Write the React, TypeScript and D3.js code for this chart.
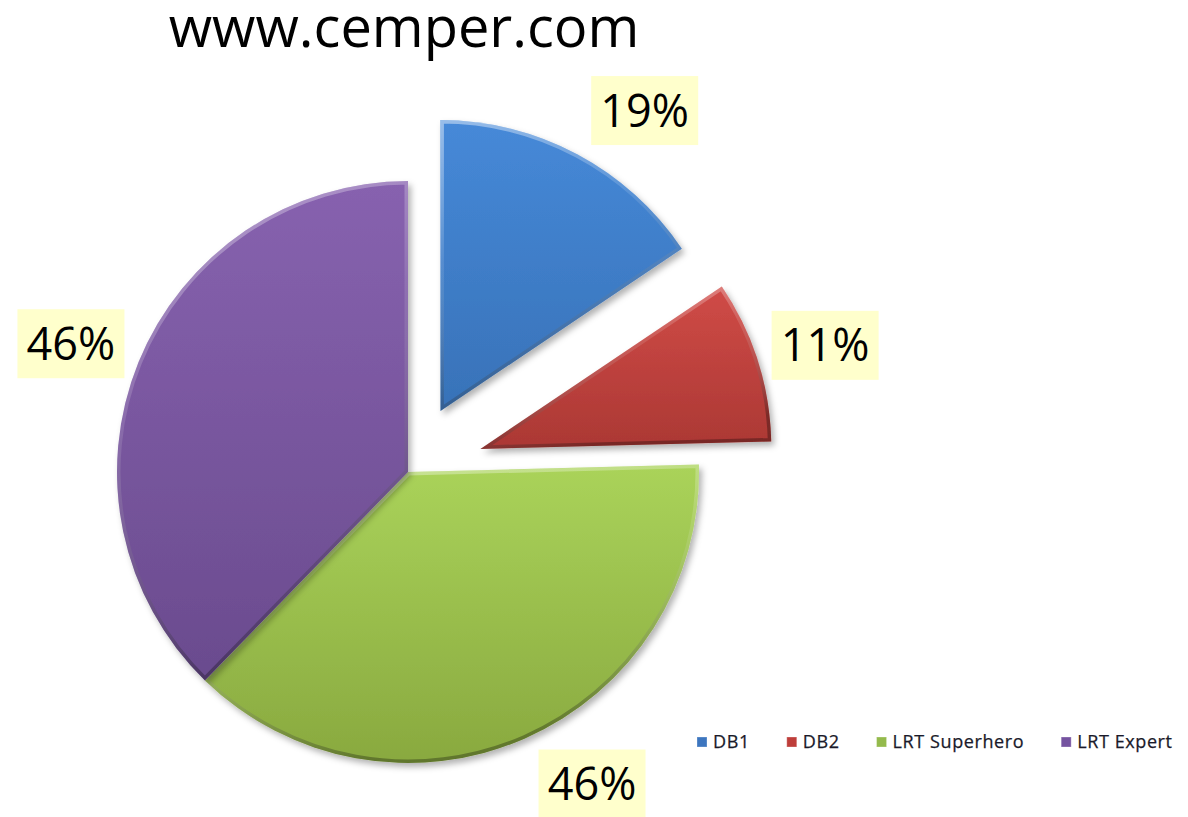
import React from "react";
import * as d3 from "d3";

const categories = ["DB1", "DB2", "LRT Superhero", "LRT Expert"];
const values = [19, 11, 46, 46];
const valueLabels = ["19%", "11%", "46%", "46%"];
const explodeOffsets = [69, 76, 0, 0];
const topColors = ["#4689D8", "#D04B47", "#AAD35A", "#8762AF"];
const bottomColors = ["#3872B8", "#AB3834", "#89A93F", "#6A4B8E"];
const legendColors = ["#3D76BF", "#BE3E3A", "#94BA4C", "#7553A0"];

const W = 1188;
const H = 817;
const CX = 408;
const CY = 472;
const R = 291;
const BOX_W = 107;
const BOX_H = 69;
const FONT = "'Open Sans', 'DejaVu Sans', sans-serif";
const LEGEND_SIZE = 18;
const LEGEND_SPACING = 0.6;

function measure(text: string, font: string): number {
  const c = document.createElement("canvas");
  const ctx = c.getContext("2d");
  if (!ctx) return text.length * 9;
  ctx.font = font;
  return ctx.measureText(text).width;
}

export default function App() {
  const pie = d3
    .pie<number>()
    .sort(null)
    .value((d) => d)
    .startAngle(0)
    .endAngle(2 * Math.PI);
  const arcs = pie(values);
  const arcGen = d3.arc<d3.PieArcDatum<number>>().innerRadius(0).outerRadius(R);

  // legend layout
  const legendFont = `${LEGEND_SIZE}px 'Open Sans'`;
  let lx = 697;
  const legendItems = categories.map((c, i) => {
    const tw = measure(c, legendFont) + c.length * LEGEND_SPACING;
    const item = { x: lx, tw, c, i };
    lx += 16 + tw + 37;
    return item;
  });

  return (
    <svg
      width={W}
      height={H}
      style={{ position: "absolute", left: 0, top: 0, background: "#fff" }}
      fontFamily={FONT}
    >
      <defs>
        <filter id="shadow" x="-20%" y="-20%" width="140%" height="140%">
          <feDropShadow dx="3" dy="4" stdDeviation="3" floodColor="#000" floodOpacity="0.3" />
        </filter>
        {arcs.map((a, i) => (
          <linearGradient key={"g" + i} id={"fill" + i} x1="0" y1="0" x2="0" y2="1">
            <stop offset="0%" stopColor={topColors[i]} />
            <stop offset="100%" stopColor={bottomColors[i]} />
          </linearGradient>
        ))}
        <linearGradient id="bevel" x1="0" y1="0" x2="0.3" y2="1">
          <stop offset="0%" stopColor="#ffffff" stopOpacity="0.45" />
          <stop offset="45%" stopColor="#ffffff" stopOpacity="0.12" />
          <stop offset="100%" stopColor="#000000" stopOpacity="0.3" />
        </linearGradient>
        {arcs.map((a, i) => (
          <clipPath key={"c" + i} id={"clip" + i}>
            <path d={arcGen(a) || ""} />
          </clipPath>
        ))}
      </defs>

      <text x={404} y={47} textAnchor="middle" fontSize={56} fill="#000">
        www.cemper.com
      </text>

      {arcs.map((a, i) => {
        const mid = (a.startAngle + a.endAngle) / 2;
        const off = explodeOffsets[i];
        const tx = CX + Math.sin(mid) * off;
        const ty = CY - Math.cos(mid) * off;
        const d = arcGen(a) || "";
        return (
          <g key={"s" + i} transform={`translate(${tx},${ty})`}>
            <path d={d} fill={`url(#fill${i})`} filter="url(#shadow)" />
            <g clipPath={`url(#clip${i})`}>
              <path d={d} fill="none" stroke="url(#bevel)" strokeWidth={7} strokeLinejoin="round" />
            </g>
          </g>
        );
      })}

      {arcs.map((a, i) => {
        const mid = (a.startAngle + a.endAngle) / 2;
        const off = explodeOffsets[i];
        const px = CX + Math.sin(mid) * (off + R);
        const py = CY - Math.cos(mid) * (off + R);
        const s = Math.sin(mid);
        const cx = px + Math.sign(s) * (BOX_W / 2 + 14);
        const cy = py - Math.cos(mid) * (BOX_H / 2 + 15);
        return (
          <g key={"l" + i}>
            <rect x={cx - BOX_W / 2} y={cy - BOX_H / 2} width={BOX_W} height={BOX_H} fill="#FFFFCC" />
            <text x={cx} y={cy + 16} textAnchor="middle" fontSize={45} fill="#000">
              {valueLabels[i]}
            </text>
          </g>
        );
      })}

      {legendItems.map((it) => (
        <g key={"lg" + it.i}>
          <rect x={it.x} y={737} width={10} height={10} fill={legendColors[it.i]} stroke="#ffffff" strokeOpacity={0.3} />
          <text
            x={it.x + 16}
            y={748}
            fontSize={LEGEND_SIZE}
            letterSpacing={LEGEND_SPACING}
            fill="#1a1a2a"
            stroke="#1a1a2a"
            strokeWidth={0.25}
          >
            {it.c}
          </text>
        </g>
      ))}
    </svg>
  );
}
